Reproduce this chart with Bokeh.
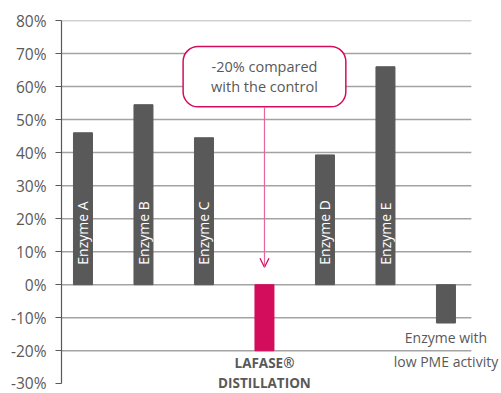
from math import pi

from bokeh.core.properties import value
from bokeh.embed import file_html
from bokeh.models import (Arrow, ColumnDataSource, FixedTicker, Label, OpenHead,
                          PrintfTickFormatter, Range1d)
from bokeh.plotting import figure
from bokeh.resources import INLINE

# Pectin-related activity relative to the control (%)
products = ["Enzyme A", "Enzyme B", "Enzyme C", "LAFASE® DISTILLATION",
            "Enzyme D", "Enzyme E", "Enzyme with low PME activity"]
change_pct = [46.0, 54.5, 44.5, -20.0, 39.3, 66.0, -11.6]
highlight = [False, False, False, True, False, False, False]
inside_labels = ["Enzyme A", "Enzyme B", "Enzyme C", "", "Enzyme D", "Enzyme E", ""]
y_ticks = [-30, -20, -10, 0, 10, 20, 30, 40, 50, 60, 70, 80]

GREY = "#595959"
RASPBERRY = "#d40c5c"
FONT = "Open Sans"

# horizontal extent of the plotted area, in category units
X_LEFT, X_RIGHT = -0.355, 6.42

idx = list(range(len(products)))
src = ColumnDataSource(dict(
    x=idx,
    top=change_pct,
    color=[RASPBERRY if h else GREY for h in highlight],
    name=inside_labels,
))

# the frame runs to the page edges so the captions below/right are not clipped
p = figure(width=501, height=393, output_backend="svg", toolbar_location=None,
           x_axis_location=None,
           x_range=Range1d(X_LEFT, 6.918), y_range=Range1d(-32.94, 80),
           min_border_left=61, min_border_right=0,
           min_border_top=20, min_border_bottom=0)
p.outline_line_color = None
p.background_fill_color = "white"
p.border_fill_color = "white"

# y axis, stopping at -30%
ax = p.yaxis[0]
ax.bounds = (y_ticks[0], y_ticks[-1])
ax.ticker = FixedTicker(ticks=y_ticks)
ax.formatter = PrintfTickFormatter(format="%d%%")
ax.axis_line_color = GREY
ax.axis_line_width = 1.2
ax.major_tick_line_color = GREY
ax.major_tick_line_width = 1.2
ax.major_tick_out = 6
ax.major_tick_in = 0
ax.minor_tick_line_color = None
ax.major_label_standoff = 9
ax.major_label_text_font = FONT
ax.major_label_text_font_size = "15.5px"
ax.major_label_text_color = GREY

# horizontal grid lines (none at the bottom -30% line)
p.xgrid.grid_line_color = None
p.ygrid.grid_line_color = None
grid_y = [t for t in y_ticks if t > y_ticks[0]]
p.segment(x0=[X_LEFT] * len(grid_y), x1=[X_RIGHT] * len(grid_y),
          y0=grid_y, y1=grid_y, line_color="#a3a3a3", line_width=1.5)

# bars
p.vbar(x="x", top="top", bottom=0, width=0.314, color="color", source=src)

# names written up the bars
p.text(x="x", y=0, text="name", source=src, angle=pi / 2,
       text_align="left", text_baseline="middle", y_offset=-20,
       text_color="white", text_font=value(FONT), text_font_size="14px")

# category names under the negative bars
def under_label(x, y, text, bold=False, baseline="middle"):
    p.add_layout(Label(x=x, y=y, text=text, text_align="center",
                       text_baseline=baseline, text_font=FONT,
                       text_font_size="13.5px" if bold else "14px",
                       text_font_style="bold" if bold else "normal",
                       text_color=GREY))

under_label(3, -26.3, "LAFASE®", bold=True, baseline="bottom")
under_label(3, -32.6, "DISTILLATION", bold=True, baseline="bottom")
under_label(6, -16.0, "Enzyme with")
under_label(6, -23.1, "low PME activity")

# callout
p.add_layout(Label(x=3, y=63.0, text="-20% compared\nwith the control",
                   text_align="center", text_baseline="middle",
                   text_font=FONT, text_font_size="14.5px", text_color=GREY,
                   text_line_height=1.02,
                   background_fill_color="white",
                   border_line_color=RASPBERRY, border_line_width=1.5,
                   border_radius=15, padding=(28, 11)))
p.add_layout(Arrow(x_start=3, y_start=53.7, x_end=3, y_end=5.3,
                   line_color="#e4679b", line_width=1.2,
                   end=OpenHead(size=9, line_color=RASPBERRY, line_width=1.3)))

open("out.html", "w").write(file_html(p, INLINE))
